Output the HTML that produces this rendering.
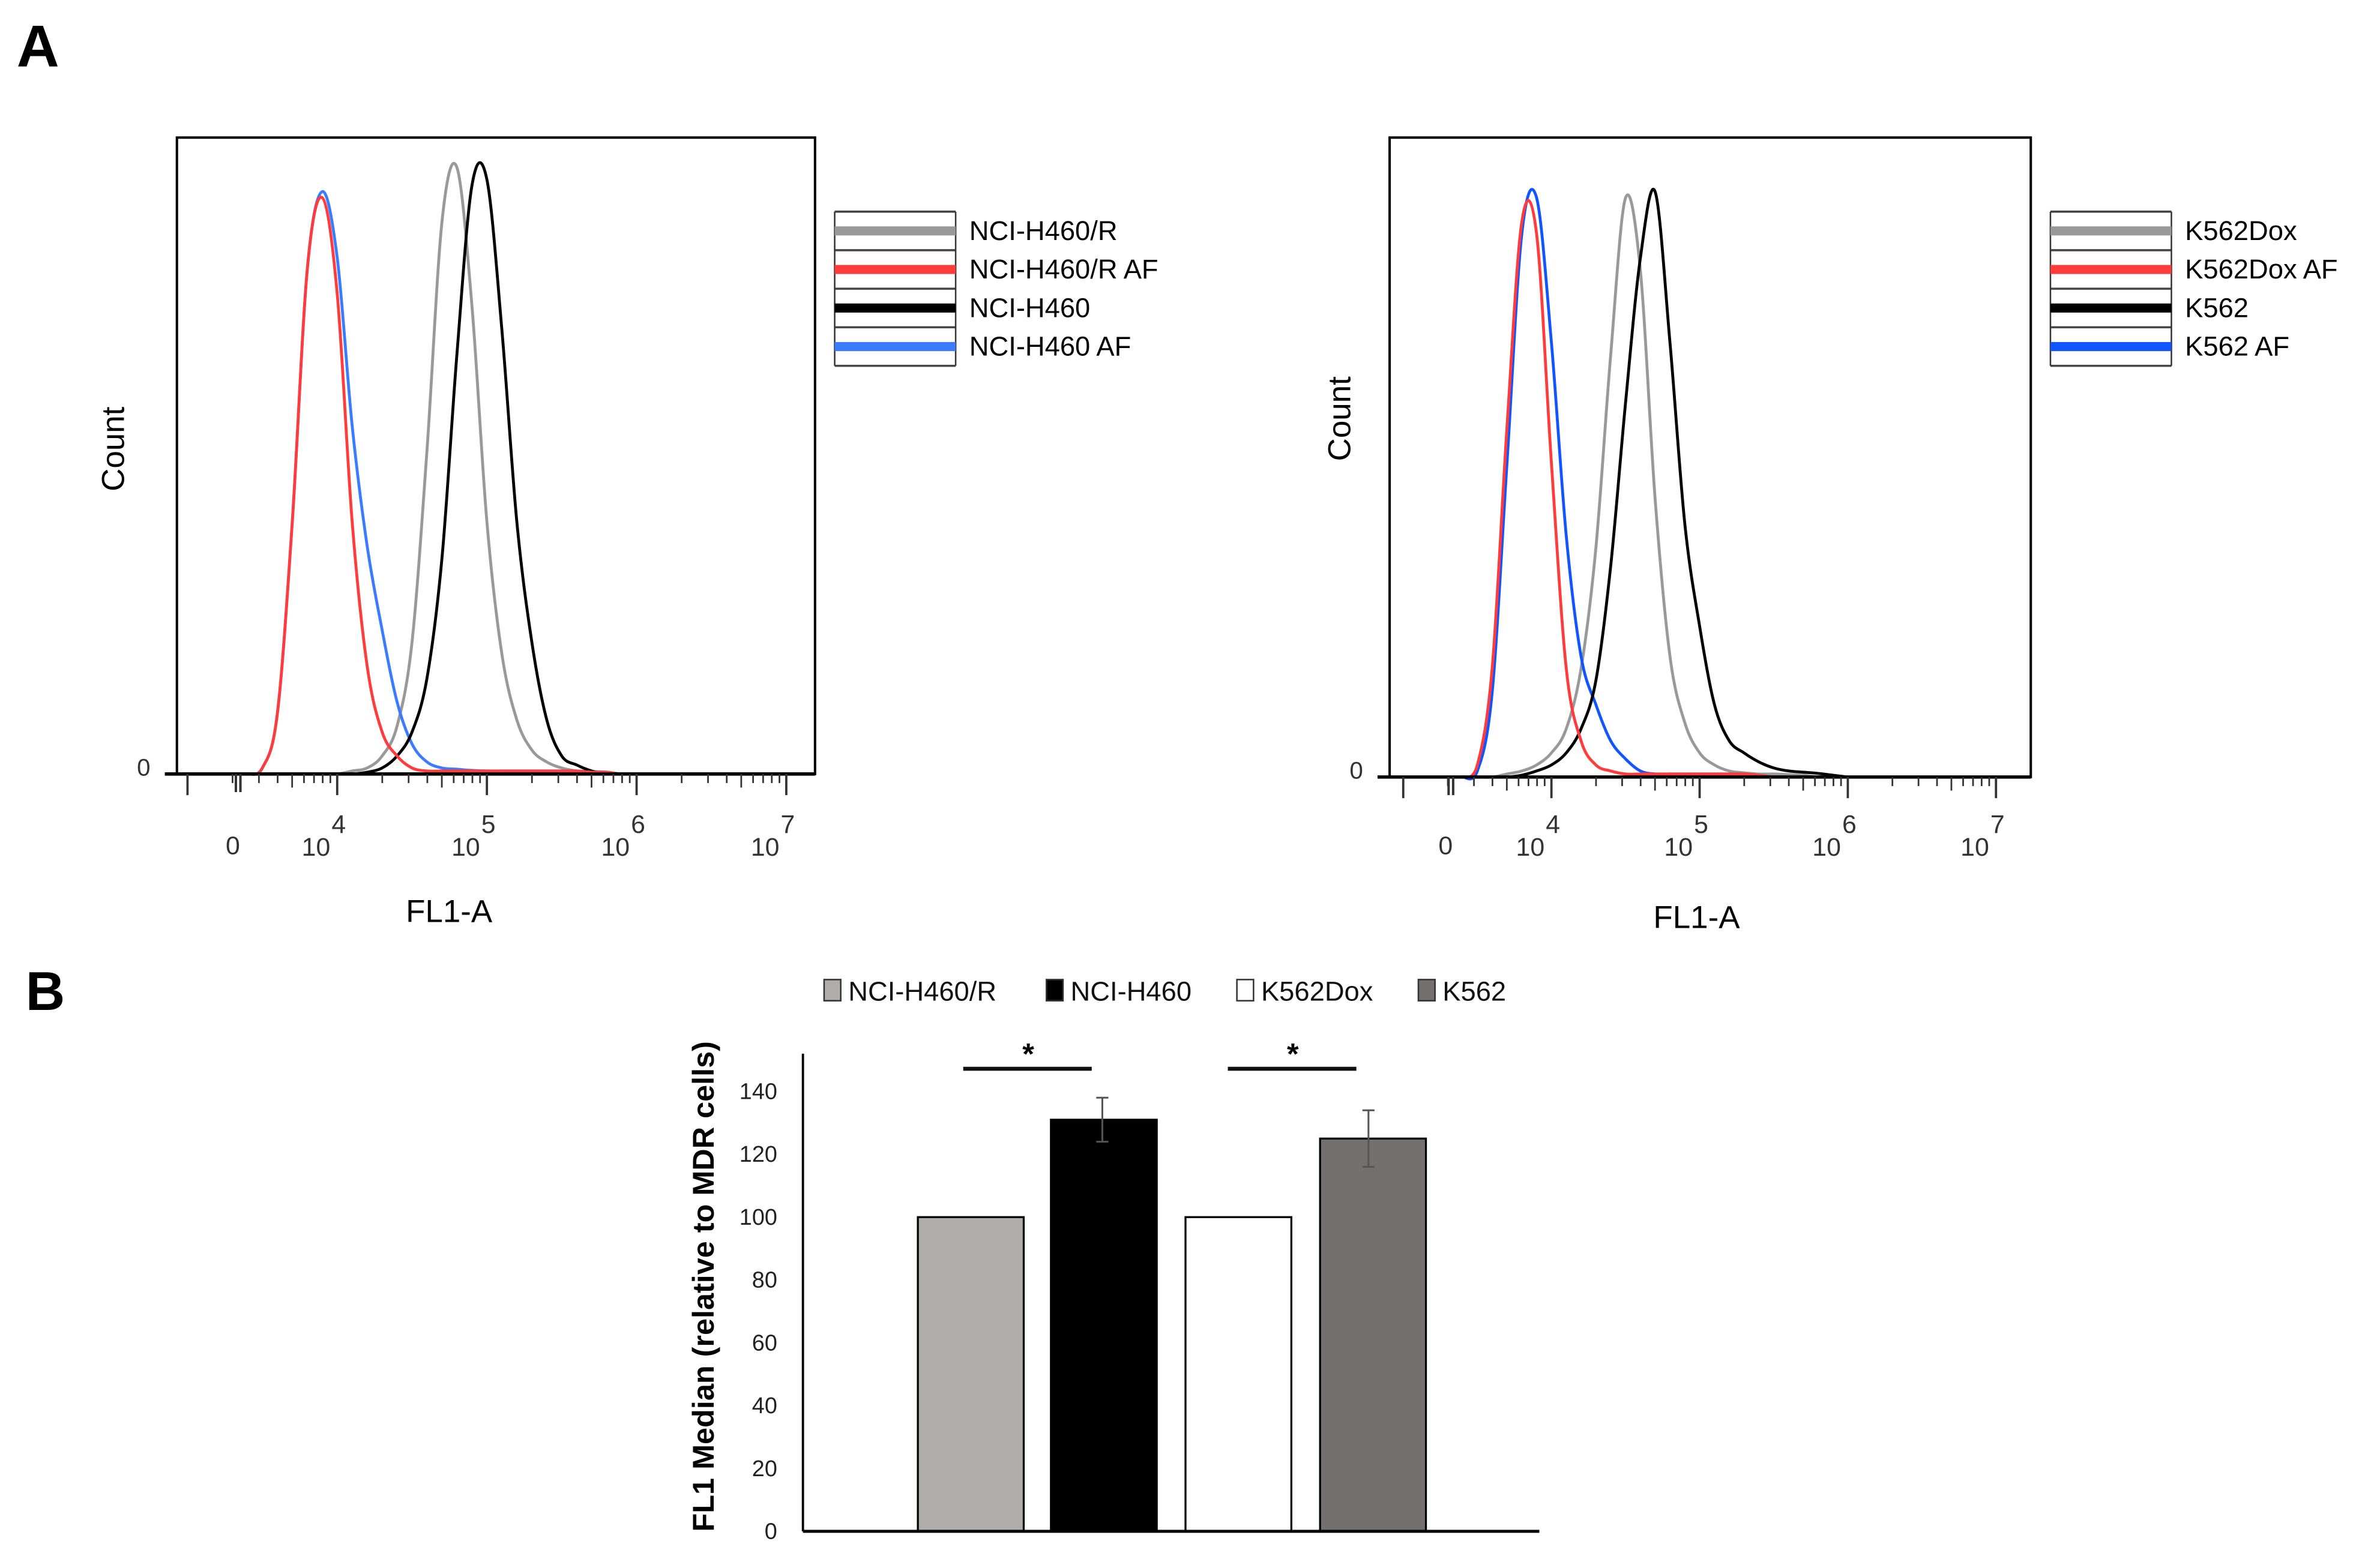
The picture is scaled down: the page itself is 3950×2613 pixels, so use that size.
<!DOCTYPE html>
<html><head><meta charset="utf-8"><style>
html,body{margin:0;padding:0;background:#fff;}
svg{display:block;}
text{font-family:"Liberation Sans",sans-serif;}
</style></head><body>
<svg id="fig" xmlns="http://www.w3.org/2000/svg" width="3950" height="2613" viewBox="0 0 1568 1037.25">
<rect x="0" y="0" width="1568" height="1037.25" fill="#fff"/>
<text x="11" y="44" font-size="39" font-weight="bold">A</text>
<text x="17" y="668" font-size="36" font-weight="bold">B</text>
<g id="left"></g><g id="right"></g><g id="bars"></g>
</svg>
<script>
// ---- histogram data (count vs log10 FL1-A) ----
const logGrid = [3.4,3.5,3.6,3.7,3.8,3.9,4.0,4.1,4.2,4.3,4.4,4.5,4.6,4.7,4.8,4.9,5.0,5.1,5.2,5.3,5.4,5.5,5.6,5.7,5.8,5.9,6.0];
const leftGray  = [0,0,0,0,0,0,0,0.5,1,3,8,22,54,92,101,78,42,20,9,4,2,1,0.5,0.3,0,0,0];
const leftRed   = [0,1,10,42,84,96,80,42,18,7,3,1,0.5,0.5,0.5,0.5,0.5,0.5,0.5,0.5,0.5,0.5,0.5,0.3,0.3,0,0];
const leftBlack = [0,0,0,0,0,0,0,0,0.3,1,3,7,16,36,70,98,99,74,42,22,9,3,1.5,0.5,0,0,0];
const leftBlue  = [0,1,10,42,84,97,86,58,38,24,12,5,2,1,0.8,0.6,0.5,0.5,0.5,0.5,0.5,0.5,0.5,0.4,0.3,0,0];
const rightGray  = [0,0,0,0.5,1,2,4,8,18,38,70,96,84,46,20,9,4,2,1,0.7,0.5,0.5,0.4,0.3,0,0,0];
const rightRed   = [0,2,18,58,92,90,52,18,6,2,1,0.5,0.5,0.5,0.5,0.5,0.5,0.5,0.5,0.5,0.3,0,0,0,0,0,0];
const rightBlack = [0,0,0,0,0.3,1,2,4,8,16,35,62,86,97,72,42,25,12,6,4,2.5,1.5,1,0.8,0.6,0.3,0];
const rightBlue  = [0,1,14,52,90,96,72,40,20,12,6,3,1,0.5,0.5,0.5,0.5,0.5,0.5,0.5,0.3,0,0,0,0,0,0];
const leftLegend  = ["NCI-H460/R","NCI-H460/R AF","NCI-H460","NCI-H460 AF"];
const rightLegend = ["K562Dox","K562Dox AF","K562","K562 AF"];
const decadeExps = [4,5,6,7];
// ---- bar data ----
const barCats = ["NCI-H460/R","NCI-H460","K562Dox","K562"];
const barVals = [100,131,100,125];
const barErr  = [0,7,0,9];
const yTicks  = [0,20,40,60,80,100,120,140];

const NS="http://www.w3.org/2000/svg";
function mk(parent,tag,attrs,txt){const e=document.createElementNS(NS,tag);for(const k in attrs)e.setAttribute(k,attrs[k]);if(txt!==undefined)e.textContent=txt;parent.appendChild(e);return e;}

function smoothPath(pts){
  let d="M"+pts[0][0].toFixed(2)+" "+pts[0][1].toFixed(2);
  for(let i=0;i<pts.length-1;i++){
    const p0=pts[Math.max(0,i-1)],p1=pts[i],p2=pts[i+1],p3=pts[Math.min(pts.length-1,i+2)];
    const c1x=p1[0]+(p2[0]-p0[0])/6,c1y=p1[1]+(p2[1]-p0[1])/6;
    const c2x=p2[0]-(p3[0]-p1[0])/6,c2y=p2[1]-(p3[1]-p1[1])/6;
    d+=`C${c1x.toFixed(2)} ${Math.min(c1y,pts[0][1]+100).toFixed(2)} ${c2x.toFixed(2)} ${c2y.toFixed(2)} ${p2[0].toFixed(2)} ${p2[1].toFixed(2)}`;
  }
  return d;
}

function histo(gid,cfg,series,colors,legend){
  const g=document.getElementById(gid);
  const X=v=>cfg.x4+(v-4)*cfg.dec;
  const Y=c=>cfg.bottom-c/106*(cfg.bottom-cfg.top);
  const order=[0,3,2,1];
  order.forEach(i=>{
    const pts=series[i].map((c,j)=>[X(logGrid[j]),Math.min(cfg.bottom,Y(c))]);
    const p=mk(g,"path",{d:smoothPath(pts),fill:"none",stroke:colors[i],"stroke-width":1.9,"stroke-linejoin":"round"});
    
    
  });
  const box=mk(g,"rect",{x:cfg.left,y:cfg.top,width:cfg.right-cfg.left,height:cfg.bottom-cfg.top,fill:"none",stroke:"#000","stroke-width":1.6});
  
  
  mk(g,"line",{x1:cfg.left-8,y1:cfg.bottom,x2:cfg.right,y2:cfg.bottom,stroke:"#000","stroke-width":2.2});
  const ta=mk(g,"g",{stroke:"#333","stroke-width":1.1});
  
  
  for(let e=3;e<=7;e++){
    for(let m=1;m<10;m++){
      const v=e+Math.log10(m); const x=X(v);
      if(x<cfg.left+3||x>cfg.right-12) continue;
      const len=m===1?14:(m===5?9:6);
      mk(ta,"line",{x1:x,y1:cfg.bottom,x2:x,y2:cfg.bottom+len,"stroke-width":m===1?1.5:1.1});
    }
  }
  mk(ta,"line",{x1:cfg.zeroX,y1:cfg.bottom,x2:cfg.zeroX,y2:cfg.bottom+12,"stroke-width":1.6});
  mk(ta,"line",{x1:cfg.zeroX+3,y1:cfg.bottom,x2:cfg.zeroX+3,y2:cfg.bottom+12,"stroke-width":1.6});
  const z=mk(g,"text",{x:cfg.zeroX-2,y:565,"font-size":17,fill:"#333","text-anchor":"middle"},"0");
  
  
  decadeExps.forEach(e=>{
    const x=X(e);
    const t=mk(g,"text",{x:x-14,y:566,"font-size":17,fill:"#333","text-anchor":"middle"},"10");
    
    
    mk(g,"text",{x:x+1,y:551,"font-size":17,fill:"#333","text-anchor":"middle"},String(e));
  });
  const y0=mk(g,"text",{x:cfg.left-22,y:cfg.bottom+1,"font-size":16,fill:"#333","text-anchor":"middle"},"0");
  
  
  const xt=mk(g,"text",{x:cfg.xtX,y:cfg.xtY,"font-size":21,"text-anchor":"middle"},"FL1-A");
  
  
  const yt=mk(g,"text",{x:0,y:0,"font-size":21,"text-anchor":"middle",transform:`translate(${cfg.ytX},${cfg.ytY}) rotate(-90)`},"Count");
  
  
  const lg=mk(g,"g",{});
  
  
  const lx=cfg.legX,lw=80,ly=140,rh=25.5;
  for(let i=0;i<=4;i++) mk(lg,"line",{x1:lx,y1:ly+i*rh,x2:lx+lw,y2:ly+i*rh,stroke:"#444","stroke-width":1.4});
  mk(lg,"line",{x1:lx,y1:ly,x2:lx,y2:ly+4*rh,stroke:"#333","stroke-width":1});
  mk(lg,"line",{x1:lx+lw,y1:ly,x2:lx+lw,y2:ly+4*rh,stroke:"#333","stroke-width":1});
  legend.forEach((name,i)=>{
    const cy=ly+i*rh+rh/2;
    mk(lg,"line",{x1:lx,y1:cy,x2:lx+lw,y2:cy,stroke:colors[i],"stroke-width":6});
    const t=mk(lg,"text",{x:lx+89,y:cy+6,"font-size":18},name);
    
    
  });
}
histo("left",{left:117,right:539,top:91,bottom:512,x4:223,dec:99,zeroX:156,xtX:297,xtY:610,ytX:82,ytY:297,legX:552},
  [leftGray,leftRed,leftBlack,leftBlue],["#999","#ff3b3b","#000","#3a7bff"],leftLegend);
histo("right",{left:919,right:1343,top:91,bottom:514,x4:1026,dec:98,zeroX:958,xtX:1122,xtY:614,ytX:893,ytY:277,legX:1356},
  [rightGray,rightRed,rightBlack,rightBlue],["#999","#ff3b3b","#000","#1155ff"],rightLegend);

(function(){
  const g=document.getElementById("bars");
  const base=1013, top140=722;
  const Y=v=>base-v*(base-top140)/140;
  const barX=[607,695,784,873], bw=70;
  const fills=["#b0acaa","#000","#fff","#747070"];
  yTicks.forEach(t=>{
    const e=mk(g,"text",{x:514,y:Y(t)+5,"font-size":15,"text-anchor":"end",fill:"#222"},String(t));
    
    
  });
  barVals.forEach((v,i)=>{
    const r=mk(g,"rect",{x:barX[i],y:Y(v),width:bw,height:base-Y(v),fill:fills[i],stroke:"#000","stroke-width":1.3});
    
    
    if(barErr[i]>0){
      const cx=barX[i]+bw/2+(i===1?-1:-3);
      const eg=mk(g,"g",{stroke:"#555","stroke-width":1.2});
      
      
      mk(eg,"line",{x1:cx,y1:Y(v+barErr[i]),x2:cx,y2:Y(v-barErr[i])});
      mk(eg,"line",{x1:cx-4,y1:Y(v+barErr[i]),x2:cx+4,y2:Y(v+barErr[i])});
      mk(eg,"line",{x1:cx-4,y1:Y(v-barErr[i]),x2:cx+4,y2:Y(v-barErr[i])});
    }
  });
  const ya=mk(g,"line",{x1:531,y1:697,x2:531,y2:base,stroke:"#000","stroke-width":1.5});
  
  
  const xa=mk(g,"line",{x1:531,y1:base,x2:1018,y2:base,stroke:"#000","stroke-width":2});
  
  
  [[637,722,680],[812,897,855]].forEach(s=>{
    const sg=mk(g,"g",{});
    
    
    mk(sg,"line",{x1:s[0],y1:707,x2:s[1],y2:707,stroke:"#111","stroke-width":2.6});
    mk(sg,"text",{x:s[2],y:704,"font-size":20,"font-weight":"bold","text-anchor":"middle"},"*");
  });
  const yt=mk(g,"text",{x:0,y:0,"font-size":20,"font-weight":"bold","text-anchor":"middle",transform:"translate(472,851) rotate(-90)"},"FL1 Median (relative to MDR cells)");
  
  
  const legX=[545,692,818,938];
  barCats.forEach((c,i)=>{
    const lg=mk(g,"g",{});
    
    
    mk(lg,"rect",{x:legX[i],y:648,width:11,height:14,fill:fills[i],stroke:"#333","stroke-width":1});
    mk(lg,"text",{x:legX[i]+16,y:662,"font-size":18,fill:"#111"},c);
  });
})();
</script>
</body></html>
